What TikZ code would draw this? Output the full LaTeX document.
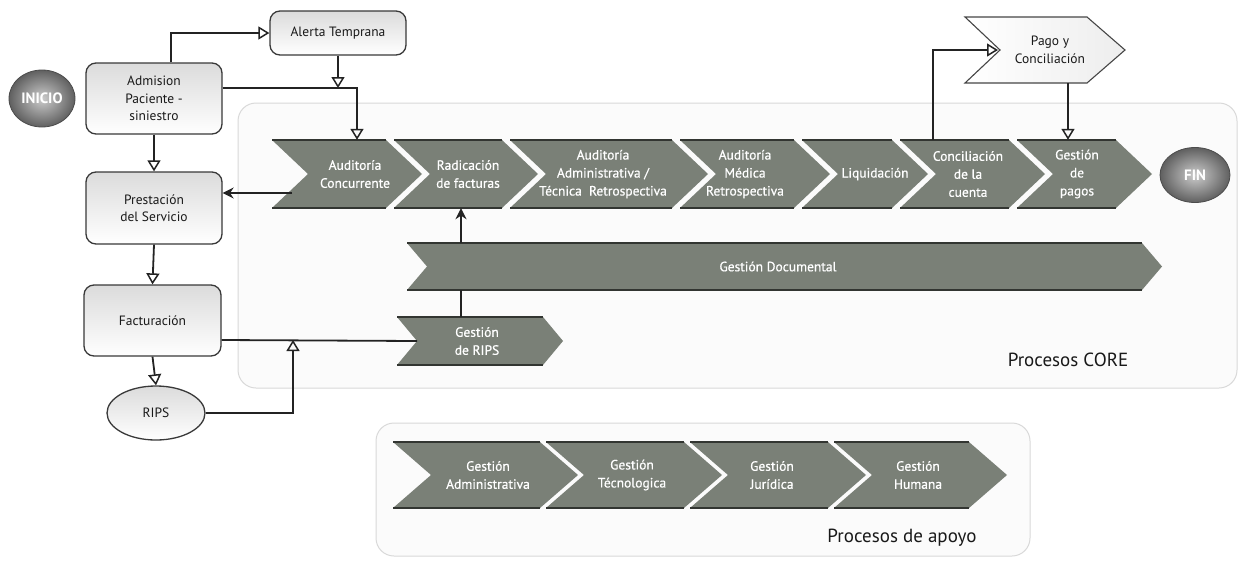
\documentclass[tikz,border=0pt]{standalone}
\usepackage{fontspec}
\setmainfont{PT Sans}
\newfontfamily\chevfont[FakeBold=0.6]{PT Sans}
\usetikzlibrary{arrows.meta,shapes.geometric,calc}
\definecolor{chev}{RGB}{122,128,119}
\definecolor{lnc}{RGB}{35,35,35}
\definecolor{chevedge}{RGB}{50,53,49}
\tikzset{
  conn/.style={draw=lnc, line width=1.8pt},
  otip/.style={-{Triangle[open,length=11pt,width=13pt,line width=1.5pt]}},
  stip/.style={-{Stealth[length=11pt,width=11pt]}},
  boxnode/.style={draw=lnc!90, line width=1.3pt, rounded corners=10pt,
    top color=gray!28, bottom color=white, align=center, inner sep=2pt,
    font=\fontsize{13.5}{17.5}\selectfont, text=black!90},
  ovalnode/.style={ellipse, draw=lnc!90, line width=1.3pt,
    top color=gray!28, bottom color=white, inner sep=1pt,
    font=\fontsize{13.5}{17.5}\selectfont, text=black!90},
  darkoval/.style={ellipse, draw=gray!60!black, line width=0.8pt,
    shading=radial, inner color=gray!40, outer color=gray!75!black, inner sep=1pt,
    font=\bfseries\fontsize{15}{17}\selectfont, text=white},
  chevtext/.style={align=center, inner sep=0pt, text=white,
    font=\chevfont\fontsize{13.5}{18}\selectfont},
  contbox/.style={draw=gray!30, line width=1pt, fill=gray!3, rounded corners=18pt},
  conttext/.style={font=\fontsize{19}{22}\selectfont, text=black!90}
}
% #1 xL, #2 tip x, #3 top y, #4 bottom y, #5 depth, #6 name, #7 text, #8 text x
\newcommand{\mychev}[8]{%
  \fill[chev] (#1,#3) -- ({#2-#5},#3) -- (#2,{(#3+#4)/2}) -- ({#2-#5},#4) -- (#1,#4) -- ({#1+#5},{(#3+#4)/2}) -- cycle;
  \draw[chevedge, line width=1.3pt] (#1,#3) -- ({#2-#5},#3) (#1,#4) -- ({#2-#5},#4);
  \node[chevtext, minimum height={#4-#3}] (#6) at (#8,{(#3+#4)/2}) {#7};
}
\begin{document}
\begin{tikzpicture}[x=1pt,y=-1pt]
\useasboundingbox (0,0) rectangle (1244,560);
\fill[white] (0,0) rectangle (1244,560);

% containers
\draw[contbox] (238,103) rectangle (1237,388);
\draw[contbox] (376,423) rectangle (1030,556);
\node[conttext] (tcore) at (1068,360) {Procesos CORE};
\node[conttext] (tapoyo) at (902,538) {Procesos de apoyo};

% main CORE row
\mychev{272}{422}{140}{208}{36}{aud}{Auditoría\\Concurrente}{355}
\mychev{394}{538}{140}{208}{36}{rad}{Radicación\\de facturas}{468}
\mychev{510}{708}{140}{208}{36}{adt}{Auditoría\\Administrativa /\\Técnica\ \ Retrospectiva}{603}
\mychev{680}{830}{140}{208}{36}{med}{Auditoría\\Médica\\Retrospectiva}{745}
\mychev{802}{928}{140}{208}{36}{liq}{Liquidación}{875}
\mychev{900}{1045}{140}{208}{36}{conc}{Conciliación\\de la\\cuenta}{968}
\mychev{1017}{1152}{140}{208}{36}{pagos}{Gestión\\de\\pagos}{1077}

% Gestion documental and RIPS
\mychev{407}{1162}{243}{290}{20}{gdoc}{Gestión Documental}{778}
\mychev{397}{563}{317}{365}{20}{grips}{Gestión\\de RIPS}{477}

% apoyo row
\mychev{393}{578}{442}{508}{38}{gadm}{Gestión\\Administrativa}{488}
\mychev{546}{722}{442}{508}{38}{gtec}{Gestión\\Técnologica}{632}
\mychev{690}{866}{442}{508}{38}{gjur}{Gestión\\Jurídica}{772}
\mychev{834}{1007}{442}{508}{38}{ghum}{Gestión\\Humana}{918}

% Pago y Conciliacion
\path[left color=white, right color=gray!14, draw=gray!55!black, line width=1.1pt]
  (965,17) -- (1087,17) -- (1125,50) -- (1087,83) -- (965,83) -- (1000,50) -- cycle;
\node[align=center, inner sep=0pt, minimum height=66pt, text=black!90,
  font=\fontsize{13.5}{17.5}\selectfont] (pago) at (1050,50) {Pago y\\Conciliación};

% left boxes
\node[darkoval, minimum width=66pt, minimum height=57pt] (inicio) at (42,98.5) {INICIO};
\node[boxnode, minimum width=136pt, minimum height=44pt] (alerta) at (338,33) {Alerta Temprana};
\node[boxnode, minimum width=136pt, minimum height=71pt] (adm) at (154,98.5) {Admision\\Paciente -\\siniestro};
\node[boxnode, minimum width=136pt, minimum height=72pt] (prest) at (154,208) {Prestación\\del Servicio};
\node[boxnode, minimum width=137pt, minimum height=71pt] (fact) at (152.5,320.5) {Facturación};
\node[ovalnode, minimum width=98pt, minimum height=54pt] (rips) at (156,413) {RIPS};
\node[darkoval, minimum width=70pt, minimum height=55pt] (fin) at (1195,175) {FIN};

% helper coordinates
\coordinate (xa) at (171,0);
\coordinate (j1) at (357,88);
\coordinate (j2) at (292,193);
\coordinate (j3) at (293,340);
\coordinate (gripsin) at (417,341);
\coordinate (xb) at (461,0);
\coordinate (xc) at (933,0);
\coordinate (pagoin) at (998,50);
\coordinate (xd) at (1068,0);

% connectors
\draw[conn, otip] (adm.north -| xa) |- (alerta.west);
\draw[conn, otip] (alerta.south) -- (alerta.south |- j1);
\draw[conn, otip] (adm.east |- j1) -| (aud.north -| j1);
\draw[conn, otip] (adm.south) -- (prest.north);
\draw[conn, stip] (j2) -- (j2 -| prest.east);
\draw[conn, otip] (prest.south) -- (fact.north);
\draw[conn, otip] (fact.south) -- (rips.north);
\draw[conn] (fact.east |- j3) -- (gripsin);
\draw[conn, otip] (rips.east) -| (j3);
\draw[conn] (grips.north -| xb) -- (gdoc.south -| xb);
\draw[conn, stip] (gdoc.north -| xb) -- (rad.south -| xb);
\draw[conn, otip] (conc.north -| xc) |- (pagoin);
\draw[conn, otip] (pago.south -| xd) -- (pagos.north -| xd);
\end{tikzpicture}
\end{document}
